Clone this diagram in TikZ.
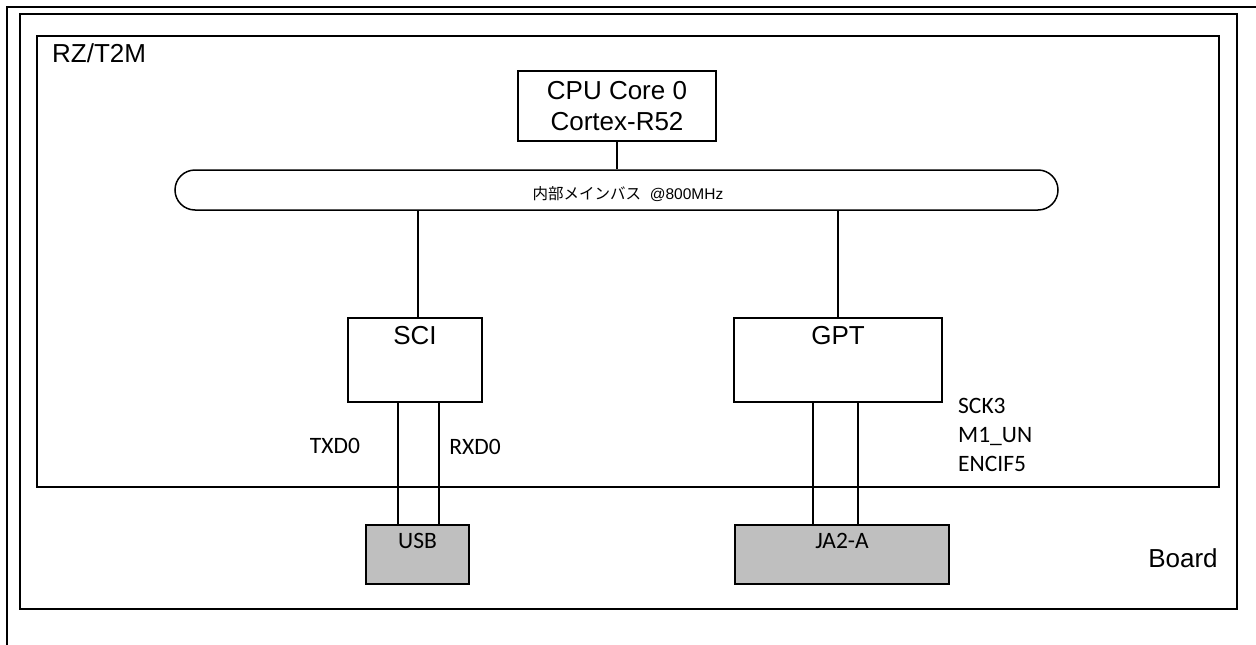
\documentclass[tikz,border=0pt]{standalone}
\usepackage{fontspec}
\setmainfont{Liberation Sans}
\newfontfamily\calibrifont{Carlito}
\newfontfamily\jpfont{Noto Sans CJK JP}
\usetikzlibrary{positioning,
                fit}
\definecolor{mgray}{RGB}{191,191,191}
\tikzset{
    outerbox/.style = {rectangle, draw, line width=1.5pt, inner sep=0pt},
       block/.style = {rectangle, draw, line width=1.5pt, inner sep=0pt,
                       font=\fontsize{26}{31}\selectfont, align=center},
     connbox/.style = {rectangle, draw, line width=1.5pt, fill=mgray, inner sep=0pt},
     bigtext/.style = {font=\fontsize{26}{31}\selectfont, inner sep=0pt},
     sigtext/.style = {font=\calibrifont\fontsize{23.5}{29}\selectfont, inner sep=0pt, align=left},
        line/.style = {draw, line width=1.5pt}
        }

\begin{document}
\begin{tikzpicture}[x=1pt, y=-1pt]
\useasboundingbox (0,0) rectangle (1256,645);
\draw [line] (7,645) -- (7,7) -- (1256,7);% <-- outer frame
\node [outerbox, minimum width=1217pt, minimum height=595pt] (board) at (628.5,311.5) {};
\node [bigtext] (boardlbl) at (1183,558) {Board};
\node [outerbox, minimum width=1182pt, minimum height=451pt] (mcu) at (628,261.5) {};
\node [bigtext, anchor=north west] (mculbl) at (52,43) {RZ/T2M};
% core and bus
\node [block, minimum width=198pt, minimum height=70pt] (cpu) at (617,106) {CPU Core 0\\Cortex-R52};
\node [block, minimum width=883pt, minimum height=40pt, rounded corners=20pt] (bus) at (616.5,190) {};
\node [font=\fontsize{15.5}{17}\selectfont, inner sep=0pt] (buslbl) at (628,194) {{\jpfont 内部メインバス}\ \ @800MHz};
% peripherals
\node [block, minimum width=134pt, minimum height=84pt,
       label={[bigtext, anchor=north, yshift=-9pt]north:SCI}] (sci) at (415,360) {};
\node [block, minimum width=208pt, minimum height=84pt,
       label={[bigtext, anchor=north, yshift=-9pt]north:GPT}] (gpt) at (838,360) {};
% board connectors
\node [connbox, minimum width=103pt, minimum height=59pt,
       label={[sigtext, anchor=north, yshift=-9pt]north:USB}] (usb) at (417.5,554.5) {};
\node [connbox, minimum width=214pt, minimum height=59pt,
       label={[sigtext, anchor=north, yshift=-9pt]north:JA2-A}] (ja2) at (842,554.5) {};
% signal names
\node [sigtext] (txd) at (335,446) {TXD0};
\node [sigtext] (rxd) at (475,447) {RXD0};
\node [sigtext, anchor=north west] (gptsig) at (958,398) {SCK3\\M1\_UN\\ENCIF5};
% connections
\draw [line] (cpu.south) -- (bus.north -| cpu.south);
\draw [line] ([xshift=3pt]sci.north) -- ([xshift=3pt]sci.north |- bus.south);
\draw [line] (gpt.north) -- (gpt.north |- bus.south);
\draw [line] ([xshift=-17pt]sci.south) -- ([xshift=-17pt]sci.south |- usb.north);
\draw [line] ([xshift=24pt]sci.south) -- ([xshift=24pt]sci.south |- usb.north);
\draw [line] ([xshift=-25pt]gpt.south) -- ([xshift=-25pt]gpt.south |- ja2.north);
\draw [line] ([xshift=20pt]gpt.south) -- ([xshift=20pt]gpt.south |- ja2.north);
\end{tikzpicture}
\end{document}
